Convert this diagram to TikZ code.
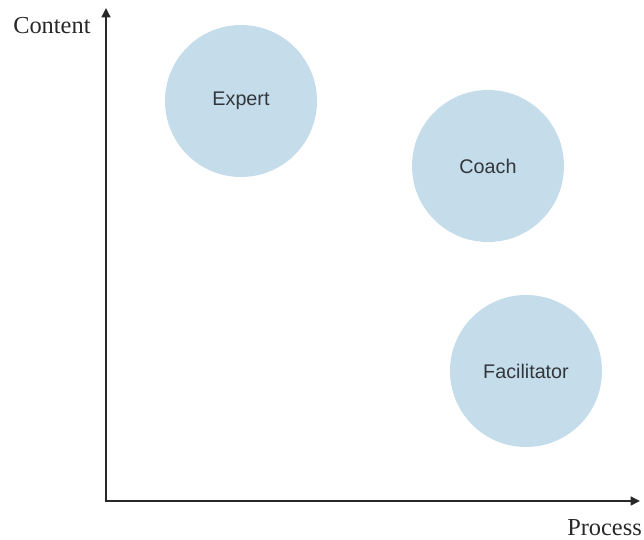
\documentclass[tikz,border=0pt]{standalone}
\usepackage{fontspec}
\setmainfont{Liberation Serif}
\newfontfamily\circfont{Liberation Sans}
\usetikzlibrary{arrows.meta}
\definecolor{bubble}{RGB}{197,220,235}
\definecolor{axisgray}{RGB}{40,40,40}
\definecolor{labelgray}{RGB}{50,55,60}
\tikzset{
  bubblenode/.style={circle, fill=bubble, draw=none, minimum size=152*0.75pt, inner sep=0pt,
    font=\circfont\fontsize{14.8}{16}\selectfont, text=labelgray},
  axisline/.style={draw=axisgray, line width=2pt, -{Triangle[length=7pt,width=6.5pt]}},
  axislabel/.style={font=\fontsize{18.3}{20}\selectfont, text=axisgray, inner sep=0pt},
}
\begin{document}
\begin{tikzpicture}[x=0.75pt,y=-0.75pt]
\useasboundingbox (0,0) rectangle (644,540);
\coordinate (origin) at (106,501);
\coordinate (ytop) at (106,8);
\coordinate (xend) at (640,501);
\draw[axisline] (origin) -- (ytop);
\draw[axisline] ([xshift=-1pt]origin) -- (xend);
\node[axislabel, anchor=base west] (content) at (13,33) {Content};
\node[axislabel, anchor=base west] (process) at (567,535) {Process};
\node[bubblenode] (expert) at (241,101) {Expert};
\node[bubblenode] (coach) at (488,166) {Coach};
\node[bubblenode] (facilitator) at (526,371) {Facilitator};
\end{tikzpicture}
\end{document}
